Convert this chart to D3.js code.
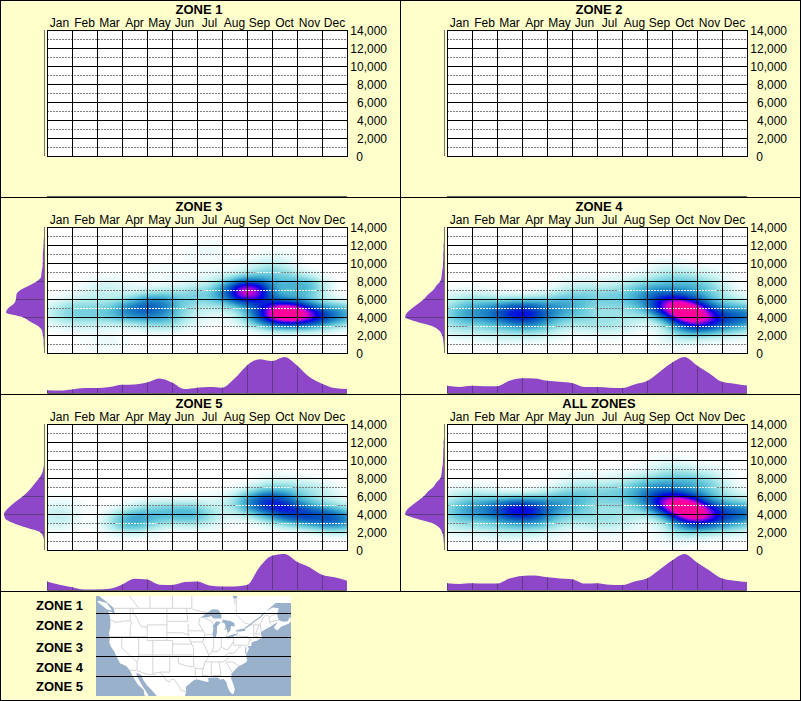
<!DOCTYPE html>
<html>
<head>
<meta charset="utf-8">
<script src="https://cdn.jsdelivr.net/npm/d3@7"></script>
<style>
  html, body { margin: 0; padding: 0; background: #ffffcc; }
  svg { display: block; }
  text { font-family: "Liberation Sans", Arial, sans-serif; fill: #000; }
</style>
</head>
<body>
<div id="chart"></div>
<script>
const months = ['Jan', 'Feb', 'Mar', 'Apr', 'May', 'Jun', 'Jul', 'Aug', 'Sep', 'Oct', 'Nov', 'Dec'];
const elevTicks = [0, 2000, 4000, 6000, 8000, 10000, 12000, 14000];
const elevDotted = [1000, 3000, 5000, 7000, 9000, 11000, 13000];
const zoneNames = ['ZONE 1', 'ZONE 2', 'ZONE 3', 'ZONE 4', 'ZONE 5', 'ALL ZONES'];
const legendNames = ['ZONE 1', 'ZONE 2', 'ZONE 3', 'ZONE 4', 'ZONE 5'];

// knots for the side curves: half months and 500 ft steps
const monthKnots = [0, .5, 1, 1.5, 2, 2.5, 3, 3.5, 4, 4.5, 5, 5.5, 6, 6.5, 7, 7.5, 8, 8.5, 9, 9.5, 10, 10.5, 11, 11.5, 12];
const elevKnots = [0, 500, 1000, 1500, 2000, 2500, 3000, 3500, 4000, 4500, 5000, 5500, 6000, 6500, 7000, 7500, 8000, 8500, 9000, 9500, 10000, 10500, 11000, 11500, 12000, 12500, 13000, 13500, 14000];

const byMonth3 = [9, 8, 11, 15, 15, 18, 24, 25, 30, 41, 30, 12, 16, 18, 16, 41, 77, 94, 89, 100, 77, 45, 27, 15, 12];
const byMonth4 = [21, 18, 21, 20, 20, 35, 42, 41, 35, 32, 29, 18, 18, 16, 15, 25, 34, 59, 84, 100, 77, 55, 32, 27, 22];
const byMonth5 = [25, 16, 9, 3, 3, 5, 16, 32, 30, 16, 15, 23, 25, 14, 11, 11, 15, 64, 95, 100, 79, 64, 43, 36, 27];
const byMonthAll = [20, 18, 20, 19, 19, 33, 40, 41, 36, 33, 31, 19, 20, 16, 15, 25, 33, 57, 82, 100, 77, 55, 33, 27, 23];

const byElev3 = [0, 0, 1, 1, 3, 5, 15, 35, 54, 95, 89, 75, 70, 69, 59, 37, 17, 7, 6, 4, 3, 3, 3, 2, 1, 1, 0, 0, 0];
const byElev4 = [0, 0, 1, 2, 5, 12, 30, 70, 97, 92, 79, 64, 50, 40, 27, 19, 9, 6, 5, 3, 2.5, 2, 2, 1, 1, 0, 0, 0, 0];
const byElev5 = [0, 0, 0, 2, 10, 45, 77, 97, 100, 93, 81, 67, 52, 40, 30, 21, 12, 5, 2, 0, 0, 0, 0, 0, 0, 0, 0, 0, 0];
const byElevAll = [0, 0, 1, 2, 5, 12, 30, 70, 97, 92, 79, 64, 50, 40, 27, 19, 9, 6, 5, 3, 2.5, 2, 2, 1, 1, 0, 0, 0, 0];

// sightings: [month position, elevation, strength]
const spots3 = [
  [8.1, 6800, 1.1], [9.55, 4650, .85], [10.1, 4200, .42], [10.2, 7300, .42], [10.7, 3900, .38], [11.4, 4400, .26], [12.2, 4300, .22],
  [8.7, 4400, .42], [9.2, 3500, .22], [3.4, 4700, .42], [4.4, 5600, .42], [4.6, 3800, .3], [2.5, 4200, .14], [1.5, 4700, .18],
  [.5, 4500, .14], [1.2, 3400, .08], [1.5, 6200, .06], [2.5, 7200, .12], [2.4, 1200, .06], [5.5, 6200, .1], [6.3, 6400, .22],
  [6.4, 11300, .06], [4.7, 8800, .05], [9.2, 11000, .05], [7.3, 6200, .12], [8.6, 9000, .12], [9.2, 8800, .16], [5.9, 4200, .1],
  [7.7, 4400, .07], [6.4, 8500, .05], [7.5, 7900, .08]
];
const spots4 = [
  [8.9, 5300, .7], [9.6, 4700, .82], [10.2, 4100, .5], [8.2, 7000, .3], [9.3, 7300, .22], [10.3, 6800, .25], [10.3, 3000, .3], [9.5, 3000, .25],
  [8.9, 9000, .12], [7.7, 5400, .16], [3, 4500, .5], [2.2, 4400, .26], [3.5, 3600, .26], [3.4, 5300, .14], [4.5, 4900, .28], [4.9, 6000, .18],
  [.5, 4300, .26], [1.5, 4500, .22], [.5, 5900, .1], [1.5, 5900, .1], [.5, 2700, .12], [1.8, 2700, .12], [11.5, 4100, .38], [12.2, 4000, .25],
  [11.4, 5800, .1], [11.5, 2600, .12], [6, 6000, .18], [7, 6200, .16], [6, 3700, .12], [7.1, 3700, .14], [5.2, 3700, .12], [7, 7800, .07], [5.3, 7700, .08],
  [2.7, 2400, .12], [4, 2600, .1], [10.2, 8300, .08], [6.5, 2300, .05], [9.2, 1500, .06], [11, 9000, .02]
];
const spots5 = [
  [9.2, 5300, .48], [9.9, 4000, .52], [10.9, 3700, .36], [8.3, 5400, .34], [9.2, 7000, .16], [10.6, 6500, .18], [8.8, 4000, .14],
  [11.6, 3300, .32], [12.2, 3300, .16], [3.3, 3200, .38], [4.3, 4300, .2], [5.6, 4100, .3], [6.3, 3600, .12], [.4, 3400, .14],
  [.5, 5000, .06], [7.6, 4800, .07], [4.4, 3300, .08], [6.4, 5600, .03], [11.5, 5000, .06]
];
const spotsAll = [
  [8.85, 5300, .72], [9.6, 4700, .84], [10.2, 4100, .5], [8.2, 7000, .3], [9.3, 7300, .22], [10.3, 6800, .25], [10.3, 3000, .3], [9.5, 3000, .25],
  [8.9, 9000, .12], [7.7, 5400, .16], [3, 4500, .52], [2.2, 4400, .28], [3.5, 3600, .26], [3.4, 5300, .14], [4.5, 4900, .28], [4.9, 6000, .18],
  [.5, 4300, .26], [1.5, 4500, .22], [.5, 5900, .1], [1.5, 5900, .1], [.5, 2700, .12], [1.8, 2700, .12], [11.5, 4100, .38], [12.2, 4000, .25],
  [11.4, 5800, .1], [11.5, 2600, .12], [6, 6000, .18], [7, 6200, .16], [6, 3700, .12], [7.1, 3700, .14], [5.2, 3700, .12], [7, 7800, .07], [5.3, 7700, .08],
  [2.7, 2400, .12], [4, 2600, .1], [10.2, 8300, .08], [6.5, 2300, .05], [9.2, 1500, .06], [11, 9000, .02]
];

const zoneSpots = [[], [], spots3, spots4, spots5, spotsAll];
const zoneByMonth = [null, null, byMonth3, byMonth4, byMonth5, byMonthAll];
const zoneByElev = [null, null, byElev3, byElev4, byElev5, byElevAll];

// map outlines as [lon, lat]
const landOutline = [[-131, 54], [-127.5, 51.5], [-125, 50.3], [-123.2, 49.3], [-122.8, 49], [-122.5, 48], [-122.4, 47.3], [-123, 47.9], [-124.7, 48.4], [-124.1, 46.9], [-124, 46.2], [-124, 44.5], [-124.5, 42.8], [-124.2, 41.8], [-124.4, 40.4], [-123.8, 39.3], [-122.5, 37.8], [-121.9, 36.6], [-120.6, 34.6], [-119.2, 34.1], [-118.4, 33.8], [-117.2, 32.6], [-115.8, 30.3], [-114.2, 28.1], [-112.2, 26.5], [-112, 25], [-110, 22.9], [-110.3, 24.2], [-111, 25.5], [-112.7, 27.8], [-113.5, 29], [-114.7, 30.9], [-114.8, 31.8], [-113.2, 31.2], [-112.3, 29.5], [-111, 27.9], [-109.4, 26.5], [-108, 25], [-106.5, 23.5], [-105.5, 22], [-97.8, 22], [-97.8, 24], [-97.2, 26], [-97.3, 27.5], [-95.5, 28.8], [-94.5, 29.5], [-93.5, 29.8], [-91.5, 29.4], [-90, 29.1], [-89.2, 29.1], [-89.5, 30.2], [-88, 30.3], [-86, 30.4], [-85.2, 29.7], [-84, 30], [-83, 29], [-82.7, 27.8], [-81.8, 26], [-81, 25.2], [-80.4, 25.3], [-80, 26.8], [-80.5, 28.3], [-81.3, 30], [-81.2, 31.5], [-80, 32.6], [-78.6, 33.8], [-77.8, 34], [-76.5, 34.7], [-75.6, 35.3], [-76, 36.8], [-75.9, 37.1], [-75.2, 38.4], [-75, 38.8], [-75.5, 39.4], [-74.2, 39.5], [-74, 40.5], [-72, 41], [-71, 41.5], [-70, 41.7], [-70.7, 42.3], [-70.7, 43.2], [-69, 44], [-67, 44.7], [-66, 45.2], [-64.8, 45.8], [-66.2, 44.3], [-65, 43.6], [-63.5, 44.6], [-61, 45.3], [-60, 46], [-60.5, 47], [-61.3, 45.9], [-63, 45.8], [-64.5, 46.2], [-65, 47.5], [-64.5, 49], [-66.5, 49.2], [-69, 48.3], [-70.5, 47], [-69.5, 48], [-67, 49.4], [-65.5, 50.2], [-60, 50.2], [-58, 51], [-58, 54]];
const vancouverIsland = [[-128.4, 50.8], [-125.3, 50.2], [-123.4, 48.5], [-125.2, 48.7], [-128.4, 50.4]];
const waterBodies = [
  [[-92.1, 46.7], [-90.5, 47.6], [-89, 48.3], [-88, 48.8], [-86, 48.7], [-84.8, 47.8], [-84.7, 46.6], [-86, 46.6], [-87.5, 46.6], [-88.3, 47.2], [-89.5, 46.9], [-90.8, 46.8]],
  [[-87.7, 41.7], [-86.8, 41.7], [-86.3, 43], [-86.3, 44.6], [-85.5, 45.2], [-85, 45.7], [-86.5, 45.9], [-87, 45.5], [-87.9, 44.6], [-87.5, 44.2], [-87.9, 43]],
  [[-84.7, 45.8], [-83.4, 45.2], [-83.3, 44.2], [-83.9, 43.7], [-82.8, 44], [-82.5, 43], [-81.7, 43.4], [-81.3, 44.7], [-80, 44.6], [-80.2, 45.5], [-81.5, 46], [-84, 46.2]],
  [[-83.4, 41.7], [-82, 41.5], [-81, 41.8], [-79, 42.7], [-79, 42.9], [-80.5, 42.6], [-82.5, 42.1], [-83.1, 42.1]],
  [[-79.8, 43.3], [-78, 43.3], [-76.3, 43.5], [-76.3, 44.2], [-77.5, 44], [-79.3, 43.7]],
  [[-81, 52.6], [-79, 52.6], [-79.3, 51.2], [-80.5, 51.2]],
  [[-76.3, 39.3], [-76, 39.2], [-75.9, 37.3], [-76.3, 37.2]]
];
const riverLine = [[-76.3, 44.2], [-74.5, 45.1], [-73, 46], [-71, 46.9], [-69.5, 48]];
const borderLines = [
  [[-123, 49], [-95.2, 49], [-94.6, 48.7], [-92, 48.3], [-89.5, 48]], [[-84.5, 46.5], [-83, 46], [-82.4, 43], [-83.1, 42.1]], [[-79, 42.9], [-79, 43.3]], [[-76.3, 44.2], [-74.7, 45], [-71.5, 45], [-70.8, 45.4], [-70, 46.7], [-69.2, 47.4], [-68.3, 47.3], [-67.8, 47], [-67.8, 45.7], [-67, 44.9]],
  [[-117.1, 32.5], [-114.7, 32.5], [-111, 31.3], [-108.2, 31.3], [-108.2, 31.8], [-106.5, 31.8], [-104.9, 30.6], [-104.5, 29.6], [-103.2, 29], [-102.6, 29.8], [-101.4, 29.8], [-100.3, 28.3], [-99.5, 27.5], [-99.1, 26.4], [-97.2, 25.9]],
  [[-124, 46.2], [-123, 46.1], [-122.8, 45.7], [-121, 45.7], [-119, 46], [-116.9, 46]], [[-117, 49], [-117, 46.4], [-116.9, 46], [-116.5, 45.5], [-117, 44.3], [-117, 42]],
  [[-124.2, 42], [-111, 42]], [[-120, 42], [-120, 39], [-114.6, 35], [-114.1, 36.1], [-114, 37]], [[-114, 42], [-114, 37]], [[-114.6, 35], [-114.5, 33.5], [-114.7, 32.7]], [[-114, 37], [-94.6, 37]],
  [[-116, 49], [-116, 47.9], [-114.5, 46.6], [-114, 45.6], [-113, 44.5], [-111, 44.5]], [[-111, 45], [-104, 45], [-104, 41], [-111, 41], [-111, 45]], [[-104, 49], [-104, 45]], [[-104, 45.9], [-96.6, 45.9]], [[-104, 43], [-98.5, 43], [-96.5, 42.5]],
  [[-104, 41], [-102, 41], [-102, 37]], [[-102, 40], [-95.3, 40]], [[-109, 41], [-109, 31.3]], [[-103, 37], [-103, 32], [-106.6, 32]], [[-103, 36.5], [-100, 36.5], [-100, 34.6], [-97, 33.8], [-94.5, 33.6], [-94.6, 36.5]], [[-94.6, 39.1], [-94.6, 36.5], [-90.2, 36.5]],
  [[-95.8, 40.6], [-91.4, 40.6]], [[-96.5, 43.5], [-91.2, 43.5]], [[-96.5, 45.3], [-96.5, 42.5], [-96, 41.5], [-95.3, 40], [-94.6, 39.1]], [[-97.2, 49], [-96.6, 46]],
  [[-92.8, 45.5], [-91.2, 43.5], [-90.6, 42.5], [-91.4, 40.6], [-90.2, 38.8], [-89.2, 37], [-89.6, 36], [-90.5, 35], [-91.2, 33], [-91.5, 31], [-89.7, 31], [-89.6, 30.2]], [[-94, 33], [-91.2, 33]], [[-94, 33.6], [-94, 31.5], [-93.6, 30]],
  [[-92.3, 46.7], [-92.8, 45.5]], [[-90.6, 42.5], [-87.8, 42.5]], [[-90.5, 46.6], [-88, 45.8], [-87.6, 45.1]], [[-87.5, 41.7], [-87.5, 39.3], [-88, 37.9]], [[-84.8, 41.7], [-84.8, 39.1]], [[-87, 41.75], [-83.4, 41.7]],
  [[-89.2, 37], [-88, 37.9], [-86, 38], [-84.8, 39.1], [-82.6, 38.4], [-81.7, 39.2], [-80.6, 40.6]], [[-80.5, 42], [-80.5, 39.7], [-75.8, 39.7]], [[-79.8, 42.2], [-75.3, 42], [-74.7, 41.3], [-75, 40.2], [-75.5, 39.6]], [[-74.7, 41.3], [-74, 41]],
  [[-89.5, 36.5], [-81.7, 36.6], [-75.9, 36.6]], [[-83.7, 36.6], [-82, 37.5], [-80.3, 37.5], [-78.4, 39.2], [-77.7, 39.3]], [[-90.2, 35], [-84.3, 35], [-82, 36.1]], [[-83.1, 35], [-80.8, 35], [-78.6, 33.9]], [[-83.1, 35], [-81, 32]], [[-85.6, 35], [-85, 32.5], [-85, 31]],
  [[-87.6, 31], [-85, 31], [-84.9, 30.7], [-82, 30.6], [-81.5, 30.7]], [[-88.2, 35], [-88.4, 30.3]], [[-87.6, 31], [-87.5, 30.3]], [[-73.3, 45], [-73.3, 42.7], [-73.5, 41.3]], [[-73.3, 42.7], [-71, 42.7]], [[-73.5, 42], [-71.8, 42], [-71.8, 41.3]], [[-71.5, 45], [-72.5, 43], [-72.5, 42.7]], [[-71, 45.3], [-70.7, 43.1]],
  [[-95.2, 54], [-95.2, 49]], [[-102, 49], [-102, 54]], [[-110, 49], [-110, 54]], [[-114, 49], [-120, 54]], [[-79.5, 51.2], [-79.5, 47.5], [-76.5, 45.5], [-74.5, 45.1]], [[-80, 51.2], [-80, 50]], [[-67.8, 47], [-64.5, 48]], [[-64.5, 46.2], [-67.8, 45.7]]
];
const zoneLats = [613.5, 637.5, 656.5, 676.5];

const svg = d3.select('#chart').append('svg').attr('width', 801).attr('height', 701);
svg.append('rect').attr('width', 801).attr('height', 701).attr('fill', '#ffffcc');

const x = d3.scaleLinear().domain([0, 12]).range([47, 347]);
const xBand = d3.scaleBand().domain(months).range([47, 347]);
const y = d3.scaleLinear().domain([0, 14000]).range([156, 30]);
const monthMargin = d3.scaleLinear().domain([0, 100]).range([196.5, 160]);
const elevMargin = d3.scaleLinear().domain([0, 100]).range([44, 4]);

const heatColor = d3.scaleLinear()
  .domain([0, .05, .14, .28, .42, .58, .72, .82, .92, 1.05])
  .range(['#ffffff', '#e6fafa', '#b4ecec', '#5cc4d8', '#2088c4', '#0048c0', '#0000e8', '#7000e0', '#e000c8', '#ff0098'])
  .clamp(true);

const bw = 7.5;
const unit = 2 * Math.PI * bw * bw;
const levels = d3.range(.02, 1.4, .02);

const monthArea = d3.area().curve(d3.curveMonotoneX)
  .x(d => x(d[0])).y0(monthMargin(0)).y1(d => monthMargin(d[1]));
const elevArea = d3.area().curve(d3.curveMonotoneY)
  .y(d => y(d[0])).x0(elevMargin(0)).x1(d => elevMargin(d[1]));

zoneNames.forEach((name, i) => {
  const col = i % 2;
  const row = Math.floor(i / 2);
  const g = svg.append('g').attr('transform', `translate(${col * 400}, ${row * 197})`);

  g.append('clipPath').attr('id', 'plot' + i).append('rect')
    .attr('x', 47).attr('y', 30).attr('width', 300).attr('height', 126);
  g.append('rect').attr('x', 47).attr('y', 30).attr('width', 300).attr('height', 126).attr('fill', '#fff');

  // heat surface, built in half width space so the blobs come out wider than tall
  const density = d3.contourDensity()
    .x(d => (x(d[0]) - 47) / 2)
    .y(d => y(d[1]) - 30)
    .weight(d => d[2] * unit)
    .size([150, 126])
    .cellSize(2)
    .bandwidth(bw)
    .thresholds(levels);
  const spots = zoneSpots[i];
  const contours = spots.length ? density(spots) : [];
  const heat = g.append('g').attr('clip-path', `url(#plot${i})`)
    .append('g').attr('transform', 'translate(47, 30) scale(2, 1)');
  heat.selectAll('path').data(contours).enter().append('path')
    .attr('d', d3.geoPath())
    .attr('fill', d => heatColor(d.value));

  // dotted lines are grey on white and white over the coloured part
  g.selectAll('.dot-line').data(elevDotted).enter().append('line')
    .attr('x1', 47).attr('x2', 347)
    .attr('y1', d => Math.round(y(d)) + .5).attr('y2', d => Math.round(y(d)) + .5)
    .attr('stroke', '#808080').attr('stroke-dasharray', '2,1');
  const strong = contours.find(c => c.value >= .2);
  if (strong) {
    g.append('clipPath').attr('id', 'strong' + i).append('path')
      .attr('transform', 'translate(47, 30) scale(2, 1)')
      .attr('d', d3.geoPath()(strong));
    g.append('g').attr('clip-path', `url(#strong${i})`)
      .selectAll('line').data(elevDotted).enter().append('line')
      .attr('x1', 47).attr('x2', 347)
      .attr('y1', d => Math.round(y(d)) + .5).attr('y2', d => Math.round(y(d)) + .5)
      .attr('stroke', '#fff').attr('stroke-dasharray', '2,1');
  }

  g.selectAll('.h-grid').data(elevTicks).enter().append('line')
    .attr('x1', 47).attr('x2', 348)
    .attr('y1', d => Math.round(y(d)) + .5).attr('y2', d => Math.round(y(d)) + .5)
    .attr('stroke', '#000');
  g.selectAll('.v-grid').data(d3.range(13)).enter().append('line')
    .attr('y1', 30).attr('y2', 156)
    .attr('x1', d => x(d) + .5).attr('x2', d => x(d) + .5)
    .attr('stroke', '#000');

  g.append('text').attr('x', 199).attr('y', 14).attr('text-anchor', 'middle')
    .attr('font-size', 13).attr('font-weight', 'bold').text(name);

  const monthAxis = d3.axisTop(xBand).tickSize(0).tickPadding(0);
  const mg = g.append('g').attr('transform', 'translate(0, 27)').call(monthAxis);
  mg.select('.domain').remove();
  mg.selectAll('text').attr('font-size', 12).attr('font-family', null).attr('dy', 0);

  const elevAxis = d3.axisRight(y).tickValues(elevTicks).tickSize(0).tickPadding(0)
    .tickFormat(d3.format(','));
  const eg = g.append('g').attr('transform', 'translate(387, 1)').call(elevAxis);
  eg.select('.domain').remove();
  eg.selectAll('text').attr('font-size', 12).attr('font-family', null)
    .attr('text-anchor', 'end').attr('x', d => d === 0 ? -24 : 0);

  // side curves
  if (zoneByElev[i]) {
    const elevData = elevKnots.map((k, j) => [k, zoneByElev[i][j]]);
    const monthData = monthKnots.map((k, j) => [k, zoneByMonth[i][j]]);
    g.append('clipPath').attr('id', 'elev' + i).append('path').attr('d', elevArea(elevData));
    g.append('clipPath').attr('id', 'month' + i).append('path').attr('d', monthArea(monthData));
    g.append('path').attr('d', elevArea(elevData)).attr('fill', '#8e47c8');
    g.append('path').attr('d', monthArea(monthData)).attr('fill', '#8e47c8');
    g.append('g').attr('clip-path', `url(#elev${i})`)
      .selectAll('line').data(elevTicks).enter().append('line')
      .attr('x1', 2).attr('x2', 44)
      .attr('y1', d => Math.round(y(d)) + .5).attr('y2', d => Math.round(y(d)) + .5)
      .attr('stroke', '#603a88');
    g.append('g').attr('clip-path', `url(#month${i})`)
      .selectAll('line').data(d3.range(13)).enter().append('line')
      .attr('y1', 155).attr('y2', 197)
      .attr('x1', d => x(d) + .5).attr('x2', d => x(d) + .5)
      .attr('stroke', '#603a88');
  }
  g.append('line').attr('x1', 44.5).attr('x2', 44.5).attr('y1', 30).attr('y2', 156)
    .attr('stroke', '#777').attr('stroke-width', 1);
  g.append('line').attr('x1', 47).attr('x2', 347).attr('y1', 196.5).attr('y2', 196.5)
    .attr('stroke', '#666').attr('stroke-width', 1);
});

// panel frame
const frameX = [0, 400, 800];
const frameY = [0, 197, 394, 591, 700];
svg.selectAll('.frame-x').data(frameX).enter().append('line')
  .attr('x1', d => d + .5).attr('x2', d => d + .5).attr('y1', 0).attr('y2', d => d === 400 ? 591 : 701)
  .attr('stroke', '#000');
svg.selectAll('.frame-y').data(frameY).enter().append('line')
  .attr('y1', d => d + .5).attr('y2', d => d + .5).attr('x1', 0).attr('x2', 801)
  .attr('stroke', '#000');

// legend map
const projection = d3.geoMercator().scale(162).translate([461, 767.7]);
const mapLine = d3.line().x(d => projection(d)[0]).y(d => projection(d)[1]);

const legendY = [605, 625, 647, 667, 686];
svg.selectAll('.legend').data(legendNames).enter().append('text')
  .attr('x', 36).attr('y', (d, i) => legendY[i] + 4.5)
  .attr('font-size', 13).attr('font-weight', 'bold').text(d => d);

svg.append('clipPath').attr('id', 'map-clip').append('rect')
  .attr('x', 96).attr('y', 596).attr('width', 195).attr('height', 100);
const map = svg.append('g').attr('clip-path', 'url(#map-clip)');
map.append('rect').attr('x', 96).attr('y', 596).attr('width', 195).attr('height', 100).attr('fill', '#9ab1cb');
map.append('path').attr('d', mapLine(landOutline) + 'Z').attr('fill', '#fff');
map.append('path').attr('d', mapLine(vancouverIsland) + 'Z').attr('fill', '#fff');
map.selectAll('.border').data(borderLines).enter().append('path')
  .attr('d', mapLine).attr('fill', 'none').attr('stroke', '#d4d4d4').attr('stroke-width', 1);
map.selectAll('.water').data(waterBodies).enter().append('path')
  .attr('d', d => mapLine(d) + 'Z').attr('fill', '#9ab1cb');
map.append('path').attr('d', mapLine(riverLine)).attr('fill', 'none').attr('stroke', '#9ab1cb').attr('stroke-width', 1.2);
map.selectAll('.zone-line').data(zoneLats).enter().append('line')
  .attr('x1', 96).attr('x2', 291).attr('y1', d => d).attr('y2', d => d)
  .attr('stroke', '#000');
</script>
</body>
</html>
